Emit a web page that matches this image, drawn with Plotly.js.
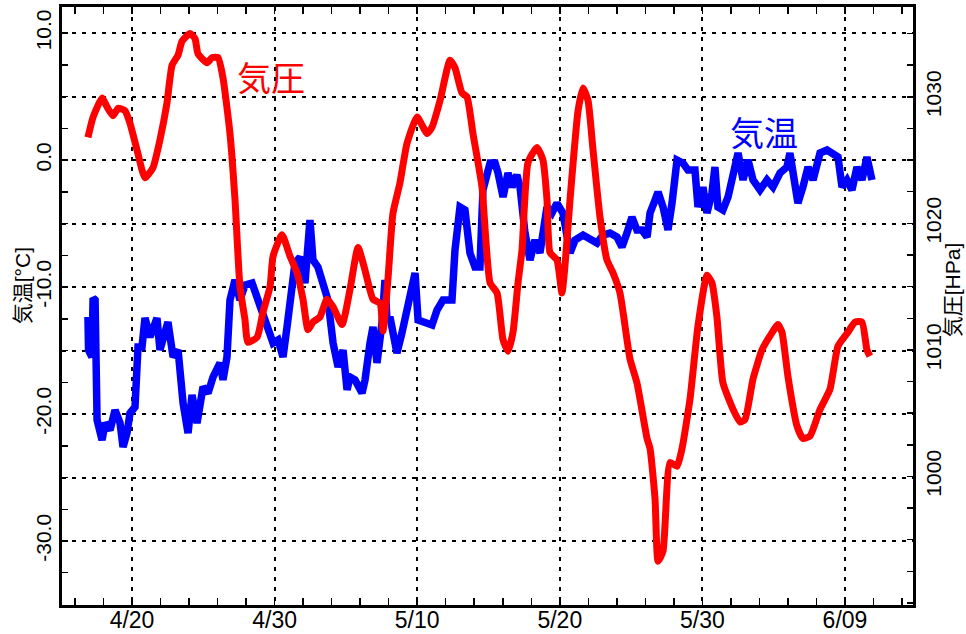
<!DOCTYPE html>
<html>
<head>
<meta charset="utf-8">
<script src="https://cdn.plot.ly/plotly-3.0.1.min.js"></script>
<style>html,body{margin:0;padding:0;background:#fff;}#chart{width:966px;height:634px;}</style>
</head>
<body>
<div id="chart"></div>
<script>
// x values: days after 4/20
var xTickVals = [0, 10, 20, 30, 40, 50];
var xTickText = ['4/20', '4/30', '5/10', '5/20', '5/30', '6/09'];
var yTickVals = [-30, -20, -10, 0, 10];
var yTickText = ['-30.0', '-20.0', '-10.0', '0.0', '10.0'];
var y2TickVals = [1000, 1010, 1020, 1030];
var y2TickText = ['1000', '1010', '1020', '1030'];

// 気温 (°C)
var dayT = [-3.09,-3.05,-2.81,-2.73,-2.59,-2.45,-2.10,-1.89,-1.54,-1.19,
-0.84,-0.63,-0.35,-0.14,0.21,0.42,0.70,0.91,1.26,1.75,
1.96,2.31,2.52,2.88,3.23,3.58,3.93,4.21,4.56,4.98,
5.33,5.68,6.17,6.38,6.66,6.87,7.22,7.57,7.92,8.42,
8.84,9.19,9.47,9.89,10.24,10.59,10.87,11.22,11.43,11.78,
12.13,12.48,12.69,13.04,13.39,13.74,14.10,14.45,14.80,15.08,
15.29,15.64,16.13,16.34,16.69,16.90,17.18,17.39,17.53,17.74,
17.88,18.09,18.58,18.93,19.28,19.71,19.85,20.06,20.55,21.04,
21.39,21.81,22.44,22.65,23.00,23.35,23.70,24.05,24.40,24.61,
25.11,25.46,25.67,26.02,26.37,26.65,26.99,27.21,27.56,27.91,
28.26,28.61,29.10,29.45,29.80,30.22,30.72,31.07,31.63,32.12,
32.61,33.03,33.52,34.01,34.36,34.71,35.06,35.41,35.76,36.12,
36.33,36.68,36.89,37.24,37.59,37.87,38.22,38.64,38.99,39.48,
39.69,40.04,40.32,40.67,40.88,41.09,41.44,41.80,42.15,42.50,
42.85,43.20,43.55,44.04,44.53,44.95,45.44,45.93,46.14,46.49,
46.70,47.05,47.41,47.76,48.25,48.74,49.16,49.51,49.79,50.14,
50.49,50.84,51.19,51.54,51.89];
var tempC = [-12.36,-14.96,-15.51,-10.87,-11.02,-20.47,-22.05,-20.71,-21.26,-19.69,
-20.71,-22.60,-21.50,-19.92,-19.45,-14.72,-14.72,-12.44,-13.94,-12.44,
-14.96,-13.39,-12.76,-15.51,-14.96,-19.13,-21.50,-18.50,-20.71,-17.87,
-18.35,-17.09,-15.98,-17.32,-15.51,-11.02,-9.45,-11.02,-9.84,-9.69,
-11.02,-11.81,-12.83,-14.41,-14.17,-15.51,-13.15,-10.24,-8.11,-7.64,
-9.69,-4.72,-7.87,-8.43,-9.69,-11.02,-14.41,-16.30,-14.96,-18.11,
-17.09,-17.32,-18.35,-17.32,-14.41,-13.15,-15.98,-14.17,-12.83,-9.45,
-12.60,-12.36,-15.20,-13.62,-11.81,-10.24,-8.90,-12.60,-12.76,-12.99,
-11.81,-11.02,-11.02,-7.09,-3.70,-3.94,-7.32,-8.43,-8.43,-2.36,
-0.24,-0.24,-1.02,-2.91,-1.02,-2.13,-1.18,-2.13,-5.75,-7.87,
-6.30,-7.32,-3.70,-4.17,-3.39,-4.17,-7.32,-6.30,-5.91,-6.30,
-6.54,-5.91,-5.75,-6.06,-6.85,-5.75,-4.49,-5.51,-5.51,-6.06,
-4.17,-3.15,-2.52,-3.70,-5.51,-3.39,0,-0.24,-0.79,-0.79,
-3.70,-2.13,-4.17,-2.60,-0.55,-3.70,-3.94,-2.91,-1.02,0.55,
-1.57,0,-1.57,-2.36,-1.57,-2.13,-1.02,-0.55,0.55,-1.57,
-3.39,-2.13,-0.55,-1.57,0.55,0.79,0.55,0.24,-2.13,-1.57,
-2.36,-0.55,-1.57,0.24,-1.57];

// 気圧 (hPa)
var dayP = [-3.09,-2.73,-2.10,-1.75,-1.33,-0.98,-0.49,-0.14,0.35,0.91,
1.47,1.96,2.45,2.81,3.23,3.51,4.07,4.42,4.63,5.26,
5.61,6.03,6.38,6.87,7.22,7.57,7.92,8.13,8.77,9.19,
9.68,9.89,10.52,11.08,11.57,11.99,12.34,12.69,13.18,13.67,
14.10,14.73,15.29,15.85,16.34,16.90,17.39,17.60,17.95,18.30,
18.79,19.28,19.99,20.69,21.04,21.60,22.30,22.65,23.14,23.49,
23.91,24.54,25.11,25.60,26.02,26.37,26.72,27.07,27.35,27.77,
28.40,28.82,29.10,29.31,29.80,30.15,30.36,30.72,31.28,31.63,
31.98,32.33,32.82,33.31,33.73,34.22,34.92,35.41,36.12,36.33,
36.68,36.89,37.24,37.73,38.22,38.57,39.13,39.69,40.32,40.67,
41.02,41.44,42.15,42.64,42.99,43.55,44.18,44.74,45.30,45.58,
46.00,46.63,47.05,47.55,48.25,48.95,49.51,50.21,50.70,51.19,
51.54,51.75];
var presHPa = [1026.8,1028.4,1029.9,1029.2,1028.5,1029.1,1028.9,1027.9,1025.8,1023.6,
1024.4,1026.6,1029.5,1032.5,1033.3,1034.4,1035.0,1034.6,1033.4,1032.7,
1033.1,1033.1,1031.5,1027.1,1021.9,1015.0,1012.4,1010.6,1011.0,1013.0,
1015.0,1017.4,1019.1,1017.4,1016.1,1014.0,1011.6,1012.2,1012.6,1014.0,
1013.4,1012.0,1014.8,1018.1,1016.3,1014.0,1013.7,1011.5,1015.6,1020.8,
1023.2,1026.3,1028.4,1027.1,1027.6,1029.7,1032.9,1032.3,1030.3,1030.0,
1027.1,1022.9,1015.3,1014.5,1010.8,1009.9,1011.4,1015.3,1017.9,1024.8,
1026.0,1025.0,1021.9,1017.7,1017.1,1014.5,1016.6,1021.9,1028.9,1030.7,
1029.7,1025.8,1020.5,1017.1,1016.1,1014.5,1009.3,1007.4,1003.0,1002.2,
998.2,993.3,994.1,1001.1,1000.8,1002.2,1006.1,1011.9,1015.9,1015.3,
1012.6,1007.4,1005.3,1004.3,1004.5,1007.7,1010.0,1011.1,1012.0,1011.4,
1007.9,1004.0,1003.0,1003.2,1005.3,1006.9,1010.3,1011.4,1012.2,1012.2,
1010.0,1009.5];

var FONT = 'Liberation Sans, Arial, "Noto Sans CJK JP", sans-serif';
var CJK = '"Noto Sans CJK JP", "Liberation Sans", sans-serif';

var traces = [
  {x: dayT, y: tempC, type: 'scatter', mode: 'lines', name: '気温',
   line: {color: '#0000ff', width: 7.5}, yaxis: 'y', hoverinfo: 'skip'},
  {x: dayP, y: presHPa, type: 'scatter', mode: 'lines', name: '気圧',
   line: {color: '#ff0000', width: 7, shape: 'spline', smoothing: 0.5}, yaxis: 'y2', hoverinfo: 'skip'}
];

var layout = {
  width: 966, height: 634,
  margin: {l: 62, r: 53, t: 7, b: 29, pad: 0},
  paper_bgcolor: '#ffffff', plot_bgcolor: '#ffffff',
  showlegend: false,
  font: {family: FONT, size: 21, color: '#000'},
  xaxis: {
    range: [-4.91, 54.77], tickmode: 'array', tickvals: xTickVals, ticktext: xTickText,
    ticks: 'inside', ticklen: 7, tickwidth: 1.5, tickcolor: '#000',
    showline: true, linewidth: 3, linecolor: '#000', mirror: 'allticks', zeroline: false,
    showgrid: true, gridcolor: '#000', gridwidth: 2, griddash: '4px,6px',
    ticklabelstandoff: -8,
    tickfont: {family: FONT, size: 23, color: '#000'},
    minor: {tickmode: 'linear', tick0: 0, dtick: 2, ticks: 'inside', ticklen: 6, tickwidth: 1.5, tickcolor: '#000', showgrid: false}
  },
  yaxis: {
    range: [-35.04, 12.05], tickmode: 'array',
    tickvals: [-35, -30, -25, -20, -15, -10, -5, 0, 5, 10],
    ticktext: ['', yTickText[0], '', yTickText[1], '', yTickText[2], '', yTickText[3], '', yTickText[4]],
    tickangle: -90, ticks: 'inside', ticklen: 6, tickwidth: 1.5, tickcolor: '#000',
    showline: true, linewidth: 3, linecolor: '#000', zeroline: false,
    showgrid: true, gridcolor: '#000', gridwidth: 2, griddash: '4px,6px',
    tickfont: {family: FONT, size: 21, color: '#000'},
    minor: {tickmode: 'linear', tick0: 0, dtick: 2.5, ticks: 'inside', ticklen: 6, tickwidth: 1.5, tickcolor: '#000', showgrid: false}
  },
  yaxis2: {
    overlaying: 'y', side: 'right', range: [989.84, 1037.1],
    tickmode: 'array', tickvals: y2TickVals, ticktext: y2TickText,
    tickangle: -90, ticks: 'inside', ticklen: 6, tickwidth: 1.5, tickcolor: '#000',
    showline: true, linewidth: 3, linecolor: '#000', zeroline: false, showgrid: false,
    tickfont: {family: FONT, size: 21, color: '#000'},
    minor: {tickmode: 'linear', tick0: 990, dtick: 2.5, ticks: 'inside', ticklen: 6, tickwidth: 1.5, tickcolor: '#000', showgrid: false}
  },
  annotations: [
    {text: '気圧', xref: 'paper', yref: 'paper', x: 0.2456, y: 0.883, showarrow: false,
     xanchor: 'center', yanchor: 'middle', font: {family: CJK, size: 34, color: '#ff0000'}},
    {text: '気温', xref: 'paper', yref: 'paper', x: 0.825, y: 0.791, showarrow: false,
     xanchor: 'center', yanchor: 'middle', font: {family: CJK, size: 34, color: '#0000ff'}},
    {text: '気温[°C]', xref: 'paper', yref: 'paper', x: -0.047, y: 0.533, showarrow: false,
     textangle: -90, xanchor: 'center', yanchor: 'middle', font: {family: FONT, size: 21, color: '#000'}},
    {text: '気圧[HPa]', xref: 'paper', yref: 'paper', x: 1.0458, y: 0.528, showarrow: false,
     textangle: -90, xanchor: 'center', yanchor: 'middle', font: {family: FONT, size: 21, color: '#000'}}
  ]
};

Plotly.newPlot('chart', traces, layout, {staticPlot: true, displayModeBar: false});
</script>
</body>
</html>
